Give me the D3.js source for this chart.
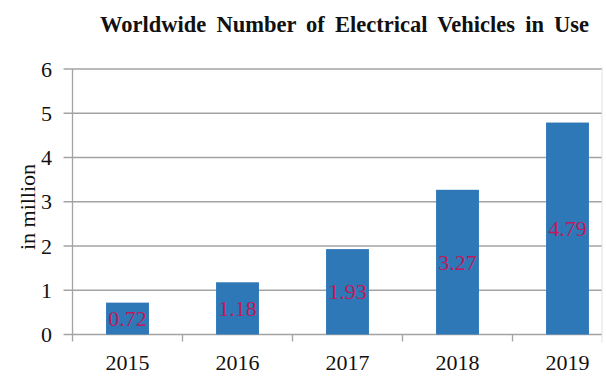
<!DOCTYPE html>
<html lang="en">

<head>
  <meta charset="UTF-8" />
  <script src="https://d3js.org/d3.v7.min.js"></script>
  <title>Worldwide Number of Electrical Vehicles in Use</title>
  <style>
    body { margin: 0; background: #fff; }
  </style>
</head>

<body>
  <svg width="606" height="377"></svg>

  <script>
    // Data
    const years = ["2015", "2016", "2017", "2018", "2019"];
    const values = [0.72, 1.18, 1.93, 3.27, 4.79];
    const yTicks = [0, 1, 2, 3, 4, 5, 6];

    const svg = d3.select("svg");
    const serif = "'Liberation Serif', 'Times New Roman', serif";

    // Plot area (last band runs past the right edge, as in the original crop)
    const plotLeft = 72.5, plotEnd = 622.5, plotRight = 602;
    const plotTop = 69, plotBottom = 334.5;

    const x = d3.scaleBand().domain(years).range([plotLeft, plotEnd]).padding(0);
    const y = d3.scaleLinear().domain([0, 6]).range([plotBottom, plotTop]);

    // Title
    svg.append("text")
      .attr("x", 100)
      .attr("y", 32)
      .attr("font-family", serif)
      .attr("font-weight", "bold")
      .attr("font-size", 22.5)
      .attr("word-spacing", 4.5)
      .attr("fill", "#111")
      .text("Worldwide Number of Electrical Vehicles in Use");

    // Gridlines + y tick labels
    const grid = svg.append("g");
    grid.selectAll("line")
      .data(yTicks)
      .join("line")
      .attr("x1", plotLeft - 9)
      .attr("x2", plotRight)
      .attr("y1", d => y(d))
      .attr("y2", d => y(d))
      .attr("stroke", "#a3a3a3")
      .attr("stroke-width", 1.3);

    grid.selectAll("text")
      .data(yTicks)
      .join("text")
      .attr("x", 52)
      .attr("y", d => y(d))
      .attr("dy", "0.35em")
      .attr("text-anchor", "end")
      .attr("font-family", serif)
      .attr("font-size", 22)
      .attr("fill", "#111")
      .text(d => d);

    // Y axis line and right border
    svg.append("line")
      .attr("x1", plotLeft).attr("x2", plotLeft)
      .attr("y1", plotTop).attr("y2", plotBottom)
      .attr("stroke", "#a3a3a3").attr("stroke-width", 1.3);
    svg.append("line")
      .attr("x1", plotRight).attr("x2", plotRight)
      .attr("y1", plotTop - 2).attr("y2", plotBottom + 8)
      .attr("stroke", "#e2e2e2").attr("stroke-width", 1);

    // Category tick marks at band boundaries
    svg.append("g").selectAll("line")
      .data(years)
      .join("line")
      .attr("x1", d => x(d))
      .attr("x2", d => x(d))
      .attr("y1", plotBottom)
      .attr("y2", plotBottom + 7)
      .attr("stroke", "#a3a3a3")
      .attr("stroke-width", 1.3);

    // Bars
    const barW = x.bandwidth() * 0.39;
    svg.append("g").selectAll("rect")
      .data(values)
      .join("rect")
      .attr("x", (d, i) => x(years[i]) + x.bandwidth() / 2 - barW / 2)
      .attr("y", d => y(d))
      .attr("width", barW)
      .attr("height", d => y(0) - y(d))
      .attr("fill", "#2f78b7");

    // Value labels
    svg.append("g").selectAll("text")
      .data(values)
      .join("text")
      .attr("x", (d, i) => x(years[i]) + x.bandwidth() / 2)
      .attr("y", d => (y(d) + y(0)) / 2)
      .attr("dy", "0.35em")
      .attr("text-anchor", "middle")
      .attr("font-family", serif)
      .attr("font-size", 22)
      .attr("fill", "#c0185a")
      .text(d => d.toFixed(2));

    // X labels
    svg.append("g").selectAll("text")
      .data(years)
      .join("text")
      .attr("x", d => x(d) + x.bandwidth() / 2)
      .attr("y", 370)
      .attr("text-anchor", "middle")
      .attr("font-family", serif)
      .attr("font-size", 22)
      .attr("fill", "#111")
      .text(d => d);

    // Y axis title
    svg.append("text")
      .attr("transform", "translate(35,207) rotate(-90)")
      .attr("text-anchor", "middle")
      .attr("font-family", serif)
      .attr("font-size", 22)
      .attr("fill", "#111")
      .text("in million");
  </script>
</body>

</html>
